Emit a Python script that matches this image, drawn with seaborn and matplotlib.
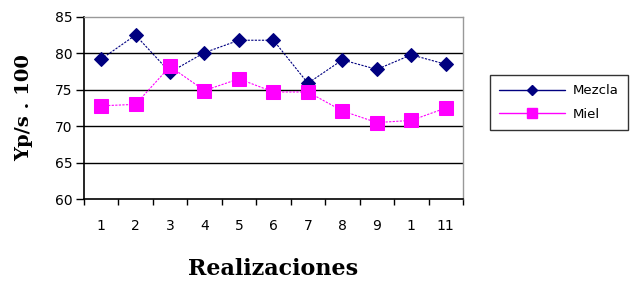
import pandas as pd
import seaborn as sns
import matplotlib.pyplot as plt

realizaciones = list(range(1, 12))
tick_labels = ["1", "2", "3", "4", "5", "6", "7", "8", "9", "1", "11"]
mezcla = [79.2, 82.5, 77.4, 80.1, 81.8, 81.8, 75.9, 79.1, 77.8, 79.8, 78.5]
miel = [72.8, 73.0, 78.2, 74.9, 76.5, 74.7, 74.7, 72.1, 70.5, 70.8, 72.5]
series_names = ["Mezcla", "Miel"]

df = pd.DataFrame({
    "Realizacion": realizaciones * 2,
    "valor": mezcla + miel,
    "serie": [series_names[0]] * 11 + [series_names[1]] * 11,
})

sns.set_style("white")
plt.rcParams.update({"text.color": "black", "axes.labelcolor": "black",
                     "xtick.color": "black", "ytick.color": "black"})
fig = plt.figure(figsize=(6.3, 2.82), dpi=100)
ax = fig.add_axes([0.133, 0.294, 0.602, 0.646])

colors = {"Mezcla": "#000080", "Miel": "#ff00ff"}
markers = {"Mezcla": "D", "Miel": "s"}
sizes = {"Mezcla": 7.5, "Miel": 9.5}

for name in series_names:
    sub = df[df["serie"] == name]
    sns.lineplot(data=sub, x="Realizacion", y="valor", ax=ax,
                 color=colors[name], linewidth=0.8, linestyle=(0, (2, 1.2)),
                 marker=markers[name], markersize=sizes[name],
                 markeredgecolor=colors[name], label=name, legend=False)

ax.set_xlim(0.5, 11.5)
ax.set_ylim(60, 85)
ax.set_yticks(range(60, 86, 5))
for yv in range(65, 85, 5):
    ax.axhline(yv, color="black", linewidth=1.0, zorder=0)

ax.set_xticks(realizaciones)
ax.set_xticklabels(tick_labels)
ax.set_xticks([i + 0.5 for i in range(0, 12)], minor=True)
ax.tick_params(axis="x", which="major", bottom=True, length=0, pad=14, labelsize=10)
ax.tick_params(axis="x", which="minor", bottom=True, length=4, width=1,
               direction="out", color="black")
ax.tick_params(axis="y", left=True, length=6, width=1, direction="out",
               labelsize=10, color="black", pad=2)

for side in ["left", "bottom"]:
    ax.spines[side].set_color("black")
    ax.spines[side].set_linewidth(1.2)
for side in ["top", "right"]:
    ax.spines[side].set_color("#999999")
    ax.spines[side].set_linewidth(1.0)

ax.set_xlabel("Realizaciones", family="DejaVu Serif", fontweight="bold",
              fontsize=16, labelpad=18)
ax.set_ylabel("Yp/s . 100", family="DejaVu Serif", fontweight="bold",
              fontsize=14, labelpad=16)

handles = [plt.Line2D([], [], color=colors[n], linewidth=1, marker=markers[n],
                      markersize=sizes[n] - 2) for n in series_names]
leg = fig.legend(handles, series_names, loc="upper left",
                 bbox_to_anchor=(490 / 630, 1 - 75 / 282), borderaxespad=0,
                 frameon=True, fancybox=False, edgecolor="black", fontsize=9.5,
                 handlelength=5.0, handletextpad=0.6, borderpad=0.7,
                 labelspacing=0.8)
leg.get_frame().set_linewidth(1.0)

plt.savefig("out.png", dpi=100)
plt.close()
